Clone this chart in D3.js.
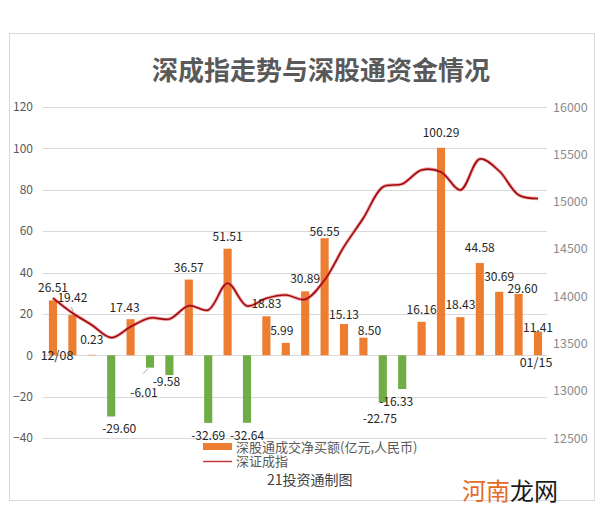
<!DOCTYPE html>
<html>
<head>
<meta charset="utf-8">
<script src="https://cdn.jsdelivr.net/npm/d3@7"></script>
<style>
  html, body { margin: 0; padding: 0; background: #ffffff; }
  svg { display: block; }
</style>
</head>
<body>
<svg id="chart" width="600" height="526"></svg>
<script>
// ---- data ----
const dates = ["12/08","12/09","12/10","12/11","12/14","12/15","12/16","12/17","12/18","12/21","12/22","12/23","12/24","12/29","12/30","12/31","01/04","01/05","01/06","01/07","01/08","01/11","01/12","01/13","01/14","01/15"];
const netBuy = [26.51,19.42,0.23,-29.60,17.43,-6.01,-9.58,36.57,-32.69,51.51,-32.64,18.83,5.99,30.89,56.55,15.13,8.50,-22.75,-16.33,16.16,100.29,18.43,44.58,30.69,29.60,11.41];
const szIndex = [13980,13822,13695,13561,13677,13769,13758,13899,13853,14136,13896,13977,14012,13966,14171,14523,14826,15154,15186,15334,15313,15122,15450,15323,15069,15032];
const leftTicks = [-40,-20,0,20,40,60,80,100,120];
const rightTicks = [12500,13000,13500,14000,14500,15000,15500,16000];
const shownDates = ["12/08","01/15"];
const titleText = "深成指走势与深股通资金情况";
const legendBar = "深股通成交净买额(亿元,人民币)";
const legendLine = "深证成指";
const sourceText = "21投资通制图";

// label nudges (layout only) index -> [dx, dy]
const labelNudge = {1:[0,-5],2:[0,-3],3:[8,0],4:[-6,1],5:[-6,12],6:[-3,-6],12:[-4,0],14:[0,6],15:[0,3],16:[6,5],17:[-3,4],18:[-6,0],20:[0,-3],22:[0,-3],23:[0,-3],24:[4,7],25:[0,8]};

const svg = d3.select("#chart");
const FONT = "'Noto Sans CJK SC', 'Noto Sans', sans-serif";

// frame
svg.append("rect").attr("x", 9.5).attr("y", 33.5).attr("width", 585).attr("height", 467)
  .attr("fill", "#fff").attr("stroke", "#d9d9d9").attr("stroke-width", 1);

// scales
const x = d3.scaleBand().domain(dates).range([43.3, 547.7]).paddingInner(0.58).paddingOuter(0.29);
const y = d3.scaleLinear().domain([-40, 120]).range([438, 107]);
const y2 = d3.scaleLinear().domain([12500, 16000]).range([438, 107]);

// gridlines
svg.append("g").selectAll("line").data(leftTicks).join("line")
  .attr("x1", 43).attr("x2", 547)
  .attr("y1", d => Math.round(y(d)) + 0.5).attr("y2", d => Math.round(y(d)) + 0.5)
  .attr("stroke", "#d9d9d9").attr("stroke-width", 1);

// left axis
const gl = svg.append("g").attr("transform", "translate(43,0)")
  .call(d3.axisLeft(y).tickValues(leftTicks).tickSize(0).tickPadding(10).tickFormat(d3.format("d")));
gl.select(".domain").remove();
gl.selectAll("text").attr("font-family", FONT).attr("font-size", 12).attr("fill", "#595959");

// right axis
const gr = svg.append("g").attr("transform", "translate(547,0)")
  .call(d3.axisRight(y2).tickValues(rightTicks).tickSize(0).tickPadding(6).tickFormat(d3.format("d")));
gr.select(".domain").remove();
gr.selectAll("text").attr("font-family", FONT).attr("font-size", 12.5).attr("fill", "#8c8c8c");

// bars
const idx = d3.range(dates.length);
svg.append("g").selectAll("rect").data(idx).join("rect")
  .attr("x", i => x(dates[i]))
  .attr("width", x.bandwidth())
  .attr("y", i => y(Math.max(0, netBuy[i])))
  .attr("height", i => Math.abs(y(netBuy[i]) - y(0)))
  .attr("fill", i => netBuy[i] >= 0 ? "#ED7D31" : "#70AD47");

// line
const lineGen = d3.line()
  .x((d, i) => x(dates[i]) + x.bandwidth() / 2)
  .y(d => y2(d))
  .curve(d3.curveCatmullRom.alpha(0.5));
svg.append("path").datum(szIndex).attr("d", lineGen)
  .attr("fill", "none").attr("stroke", "#e8585a").attr("stroke-width", 3.4).attr("stroke-opacity", 0.55);
svg.append("path").datum(szIndex).attr("d", lineGen)
  .attr("fill", "none").attr("stroke", "#9e0b0f").attr("stroke-width", 1.6);

// data labels
const lbl = svg.append("g").attr("font-family", FONT).attr("font-size", 12).attr("fill", "#262626");
idx.forEach(i => {
  const v = netBuy[i];
  const cx = x(dates[i]) + x.bandwidth() / 2;
  const n = labelNudge[i] || [0, 0];
  const by = v >= 0 ? y(v) - 8 : y(v) + 17;
  lbl.append("text").attr("x", cx + n[0]).attr("y", by + n[1])
    .attr("text-anchor", "middle").text(v.toFixed(2));
});
// leader lines: [index, dx1, dy1, dx2, dy2] relative to bar end
const leaders = [[1, -1, -8, 1, -3], [5, -2, 1, -7, 6]];
leaders.forEach(([i, dx1, dy1, dx2, dy2]) => {
  const cx = x(dates[i]) + x.bandwidth() / 2;
  const yy = y(netBuy[i]);
  svg.append("line").attr("x1", cx + dx1).attr("y1", yy + dy1).attr("x2", cx + dx2).attr("y2", yy + dy2)
    .attr("stroke", "#a6a6a6").attr("stroke-width", 1);
});

// category labels (first / last only)
const catG = svg.append("g").attr("font-family", FONT).attr("font-size", 12.5).attr("fill", "#262626");
catG.append("text").attr("x", x(shownDates[0]) + x.bandwidth() / 2 + 4).attr("y", y(0) + 5)
  .attr("text-anchor", "middle").text(shownDates[0]);
catG.append("text").attr("x", x(shownDates[1]) + x.bandwidth() / 2 - 2).attr("y", y(0) + 12)
  .attr("text-anchor", "middle").text(shownDates[1]);

// title
svg.append("text").attr("x", 321).attr("y", 80).attr("text-anchor", "middle")
  .attr("font-family", FONT).attr("font-size", 26).attr("font-weight", "bold").attr("fill", "#595959")
  .text(titleText);

// legend
svg.append("rect").attr("x", 203).attr("y", 443).attr("width", 29).attr("height", 7).attr("fill", "#ED7D31");
svg.append("text").attr("x", 236).attr("y", 452).attr("font-family", FONT).attr("font-size", 13).attr("fill", "#595959").text(legendBar);
svg.append("line").attr("x1", 203).attr("x2", 232).attr("y1", 461.5).attr("y2", 461.5).attr("stroke", "#c0393b").attr("stroke-width", 1.5);
svg.append("text").attr("x", 236).attr("y", 466).attr("font-family", FONT).attr("font-size", 13).attr("fill", "#595959").text(legendLine);
svg.append("text").attr("x", 267).attr("y", 485).attr("font-family", FONT).attr("font-size", 14).attr("fill", "#404040").text(sourceText);

// watermark
const wm = svg.append("text").attr("x", 462).attr("y", 500).attr("font-family", FONT).attr("font-size", 24);
wm.append("tspan").attr("fill", "#E46C28").text("河南");
wm.append("tspan").attr("fill", "#1a1a1a").text("龙网");
</script>
</body>
</html>
